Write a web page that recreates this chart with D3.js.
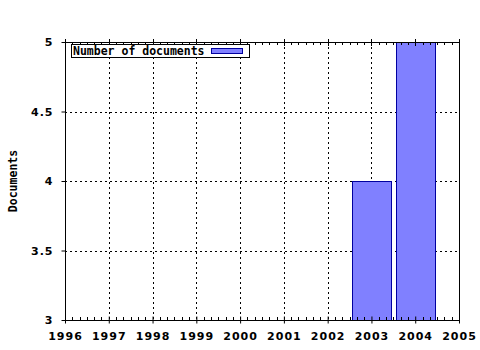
<!DOCTYPE html>
<html>
<head>
<meta charset="utf-8">
<script src="https://cdn.jsdelivr.net/npm/d3@7"></script>
<style>
  body { margin: 0; background: #fff; }
  .tick-lab { font-family: "DejaVu Sans"; font-weight: bold; font-size: 11px; letter-spacing: 1px; }
  .mono { font-family: "DejaVu Sans Mono"; font-weight: bold; font-size: 11.5px; }
</style>
</head>
<body>
<div id="chart"></div>
<script>
const years = [2003, 2004];
const docs = [4, 5];
const xTicks = [1996, 1997, 1998, 1999, 2000, 2001, 2002, 2003, 2004, 2005];
const yTicks = [3, 3.5, 4, 4.5, 5];
const seriesName = "Number of documents";

const width = 480,
      height = 350,
      margin = ({ top: 42, right: 21, bottom: 30, left: 65 });

const svg = d3.select("#chart")
    .append("svg")
    .attr("width", width)
    .attr("height", height);

const x = d3.scaleLinear()
    .domain([1996, 2005])
    .range([margin.left, width - margin.right]);

const y = d3.scaleLinear()
    .domain([3, 5])
    .range([height - margin.bottom, margin.top]);

const x0 = margin.left, x1 = width - margin.right,
      y0 = height - margin.bottom, y1 = margin.top;

// grid
svg.append("g")
    .selectAll("line")
    .data(xTicks.slice(1, -1))
    .join("line")
    .attr("x1", d => Math.round(x(d)) + 0.5)
    .attr("x2", d => Math.round(x(d)) + 0.5)
    .attr("y1", y1)
    .attr("y2", y0)
    .attr("stroke", "#000")
    .attr("stroke-dasharray", "2,3");

svg.append("g")
    .selectAll("line")
    .data(yTicks.slice(1, -1))
    .join("line")
    .attr("x1", x0)
    .attr("x2", x1)
    .attr("y1", d => Math.round(y(d)) + 0.5)
    .attr("y2", d => Math.round(y(d)) + 0.5)
    .attr("stroke", "#000")
    .attr("stroke-dasharray", "2,3");

// bars
const bw = 0.9;
svg.append("g")
    .selectAll("rect")
    .data(years.map((yr, i) => ({ yr, v: docs[i] })))
    .join("rect")
    .attr("x", d => Math.round(x(d.yr - bw / 2)) + 0.5)
    .attr("width", d => Math.round(x(d.yr + bw / 2) - x(d.yr - bw / 2)))
    .attr("y", d => Math.round(y(d.v)) + 0.5)
    .attr("height", d => Math.round(y(3) - y(d.v)))
    .attr("fill", "#8080ff")
    .attr("stroke", "#0000a0");

// frame
svg.append("rect")
    .attr("x", x0 + 0.5)
    .attr("y", y1 + 0.5)
    .attr("width", x1 - x0)
    .attr("height", y0 - y1)
    .attr("fill", "none")
    .attr("stroke", "#000");

// minor ticks on bottom and top
const minor = [];
xTicks.slice(0, -1).forEach(t => { for (let k = 1; k < 6; k++) minor.push(t + k / 6); });

svg.append("g")
    .selectAll("line")
    .data(minor)
    .join("line")
    .attr("x1", d => Math.round(x(d)) + 0.5)
    .attr("x2", d => Math.round(x(d)) + 0.5)
    .attr("y1", y0)
    .attr("y2", y0 - 3)
    .attr("stroke", "#000");

svg.append("g")
    .selectAll("line")
    .data(minor)
    .join("line")
    .attr("x1", d => Math.round(x(d)) + 0.5)
    .attr("x2", d => Math.round(x(d)) + 0.5)
    .attr("y1", y1)
    .attr("y2", y1 + 3)
    .attr("stroke", "#000");

// x axis
const xAxis = svg.append("g")
    .attr("transform", `translate(0,${y0 + 0.5})`)
    .call(d3.axisBottom(x).tickValues(xTicks).tickFormat(d3.format("d")).tickSize(4).tickSizeOuter(0).tickPadding(8));
xAxis.select(".domain").remove();
xAxis.selectAll("text").attr("class", "tick-lab").attr("fill", "#000");
xAxis.selectAll(".tick line").attr("y1", -4).attr("y2", 3);
// top major ticks
svg.append("g")
    .selectAll("line")
    .data(xTicks)
    .join("line")
    .attr("x1", d => Math.round(x(d)) + 0.5)
    .attr("x2", d => Math.round(x(d)) + 0.5)
    .attr("y1", y1 - 3)
    .attr("y2", y1 + 4)
    .attr("stroke", "#000");

// y axis
const yAxis = svg.append("g")
    .attr("transform", `translate(${x0 + 0.5},0)`)
    .call(d3.axisLeft(y).tickValues(yTicks).tickFormat(d => d).tickSize(4).tickSizeOuter(0).tickPadding(8));
yAxis.select(".domain").remove();
yAxis.selectAll("text").attr("class", "tick-lab").attr("fill", "#000");

svg.append("text")
    .attr("class", "mono")
    .attr("transform", `translate(17,${(y0 + y1) / 2}) rotate(-90)`)
    .attr("text-anchor", "middle")
    .text("Documents");

// legend
const lg = svg.append("g");
lg.append("rect")
    .attr("x", 71.5).attr("y", 44.5)
    .attr("width", 178).attr("height", 13)
    .attr("fill", "#fff").attr("stroke", "#000");
lg.append("text")
    .attr("class", "mono")
    .attr("x", 73).attr("y", 55)
    .text(seriesName);
lg.append("rect")
    .attr("x", 211.5).attr("y", 48.5)
    .attr("width", 31).attr("height", 5)
    .attr("fill", "#8080ff").attr("stroke", "#0000a0");
</script>
</body>
</html>
